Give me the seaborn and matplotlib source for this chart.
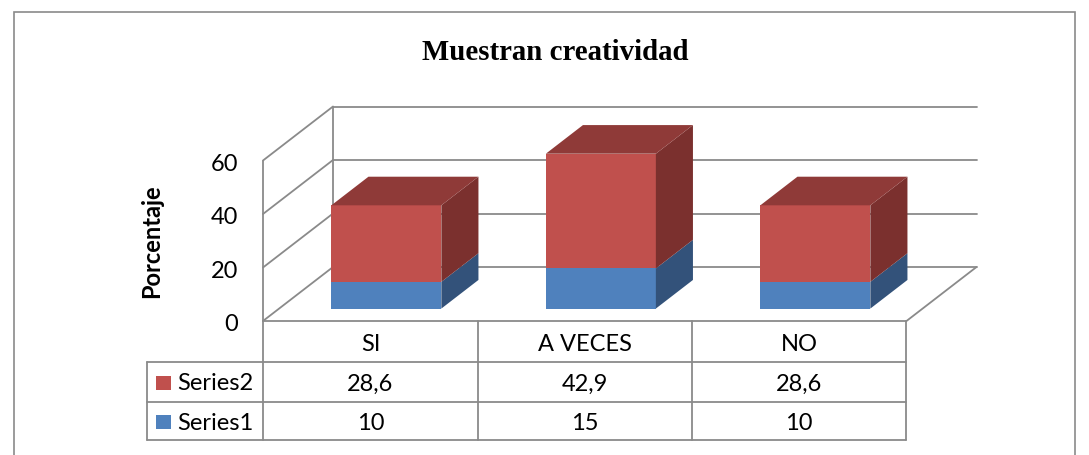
import matplotlib
matplotlib.use("Agg")
import matplotlib.pyplot as plt
from matplotlib.patches import Polygon, Rectangle
from matplotlib.lines import Line2D
import seaborn as sns

# data
categories = ["SI", "A VECES", "NO"]
series1 = [10, 15, 10]
series2 = [28.6, 42.9, 28.6]
series_names = ["Series1", "Series2"]
y_ticks = [0, 20, 40, 60]
title = "Muestran creatividad"
y_label = "Porcentaje"

W, H = 1089, 456
sns.set_theme(style="white")
plt.rcParams["font.family"] = ["Lato", "DejaVu Sans"]
plt.rcParams["text.color"] = "black"
FS = 17

fig = plt.figure(figsize=(W / 100, H / 100), dpi=100)
fig.patch.set_facecolor("white")

# one unit in x = one category (214.5 px), one unit in y = 2.675 px
X_PX, Y_PX = 214.5, 2.675
X0, Y0 = 263, 322          # pixel of (x=-0.5, value=0)
ax = fig.add_axes([0, 0, 1, 1])
ax.set_xlim(-0.5 - X0 / X_PX, -0.5 + (W - X0) / X_PX)
ax.set_ylim(-(H - Y0) / Y_PX, Y0 / Y_PX)
ax.axis("off")

DX, DY = 70 / X_PX, 54 / Y_PX   # full depth of the box
D0, DT = 0.23, 0.53             # bar front position / bar thickness (fraction of depth)
n = len(categories)
grid_c = "#8a8a8a"
lw = 1.3


def px(x, y):
    return x / W, 1 - y / H


# walls and gridlines
xl, xr = -0.5, n - 0.5
for v in y_ticks:
    ax.plot([xl, xl + DX], [v, v + DY], color=grid_c, lw=lw, zorder=1)
    ax.plot([xl + DX, xr + DX], [v + DY, v + DY], color=grid_c, lw=lw, zorder=1)
ax.plot([xl, xl], [0, y_ticks[-1]], color=grid_c, lw=lw, zorder=1)
ax.plot([xl + DX, xl + DX], [DY, y_ticks[-1] + DY], color=grid_c, lw=lw, zorder=1)
ax.plot([xl, xr, xr + DX], [0, 0, DY], color=grid_c, lw=lw, zorder=1)

for v in y_ticks:
    ax.text(xl - 25 / X_PX, v - 1, str(v), ha="right", va="center", fontsize=FS, color="black")

# 3d stacked bars
width = 110 / X_PX
front = {"Series1": "#4F81BD", "Series2": "#C0504D"}
side = {"Series1": "#33527A", "Series2": "#7B302E"}
top = {"Series1": "#3E6596", "Series2": "#8F3A38"}
base = D0 * DY
xs = [i + D0 * DX for i in range(n)]

bottoms = [base] * n
for name, vals in zip(series_names, [series1, series2]):
    ax.bar(xs, vals, width=width, bottom=bottoms, color=front[name], edgecolor="none", zorder=3)
    for i in range(n):
        x_r = xs[i] + width / 2
        b, t = bottoms[i], bottoms[i] + vals[i]
        ax.add_patch(Polygon([(x_r, b), (x_r + DT * DX, b + DT * DY),
                              (x_r + DT * DX, t + DT * DY), (x_r, t)],
                             closed=True, facecolor=side[name], edgecolor="none", zorder=3))
    bottoms = [b + v for b, v in zip(bottoms, vals)]

for i in range(n):
    x_l, x_r, t = xs[i] - width / 2, xs[i] + width / 2, bottoms[i]
    ax.add_patch(Polygon([(x_l, t), (x_r, t), (x_r + DT * DX, t + DT * DY),
                          (x_l + DT * DX, t + DT * DY)],
                         closed=True, facecolor=top["Series2"], edgecolor="none", zorder=3))

# data table
tc = "#8a8a8a"
col_x = [263, 478, 692, 906]
row_y = [322, 363, 403, 441]
for x in col_x:
    fig.add_artist(Line2D(*zip(px(x, row_y[0]), px(x, row_y[-1])), color=tc, lw=lw))
fig.add_artist(Line2D(*zip(px(147, row_y[1]), px(147, row_y[-1])), color=tc, lw=lw))
for y in row_y[1:]:
    fig.add_artist(Line2D(*zip(px(147, y), px(col_x[-1], y)), color=tc, lw=lw))

for j, cat in enumerate(categories):
    cx = (col_x[j] + col_x[j + 1]) / 2
    fig.text(*px(cx, 345), cat, ha="center", va="center", fontsize=FS)
    fig.text(*px(cx, 384), f"{series2[j]:g}".replace(".", ","), ha="center", va="center", fontsize=FS)
    fig.text(*px(cx, 423), f"{series1[j]:g}".replace(".", ","), ha="center", va="center", fontsize=FS)

for name, yc in [("Series2", 384), ("Series1", 423)]:
    fig.add_artist(Rectangle(px(156, yc + 7), 15 / W, 14 / H, facecolor=front[name], edgecolor="none"))
    fig.text(*px(177, yc), name, ha="left", va="center", fontsize=FS)

# titles
fig.text(*px(555, 52), title, ha="center", va="center", fontsize=20.8, fontweight="bold",
         family=["Liberation Serif", "DejaVu Serif"])
fig.text(*px(152, 241), y_label, ha="center", va="center", rotation=90, fontsize=FS,
         fontweight="bold")

# chart border
fig.add_artist(Rectangle(px(14, 470), (1075 - 14) / W, (470 - 13) / H, fill=False,
                         edgecolor="#8a8a8a", lw=1.2))

fig.savefig("out.png", dpi=100)
